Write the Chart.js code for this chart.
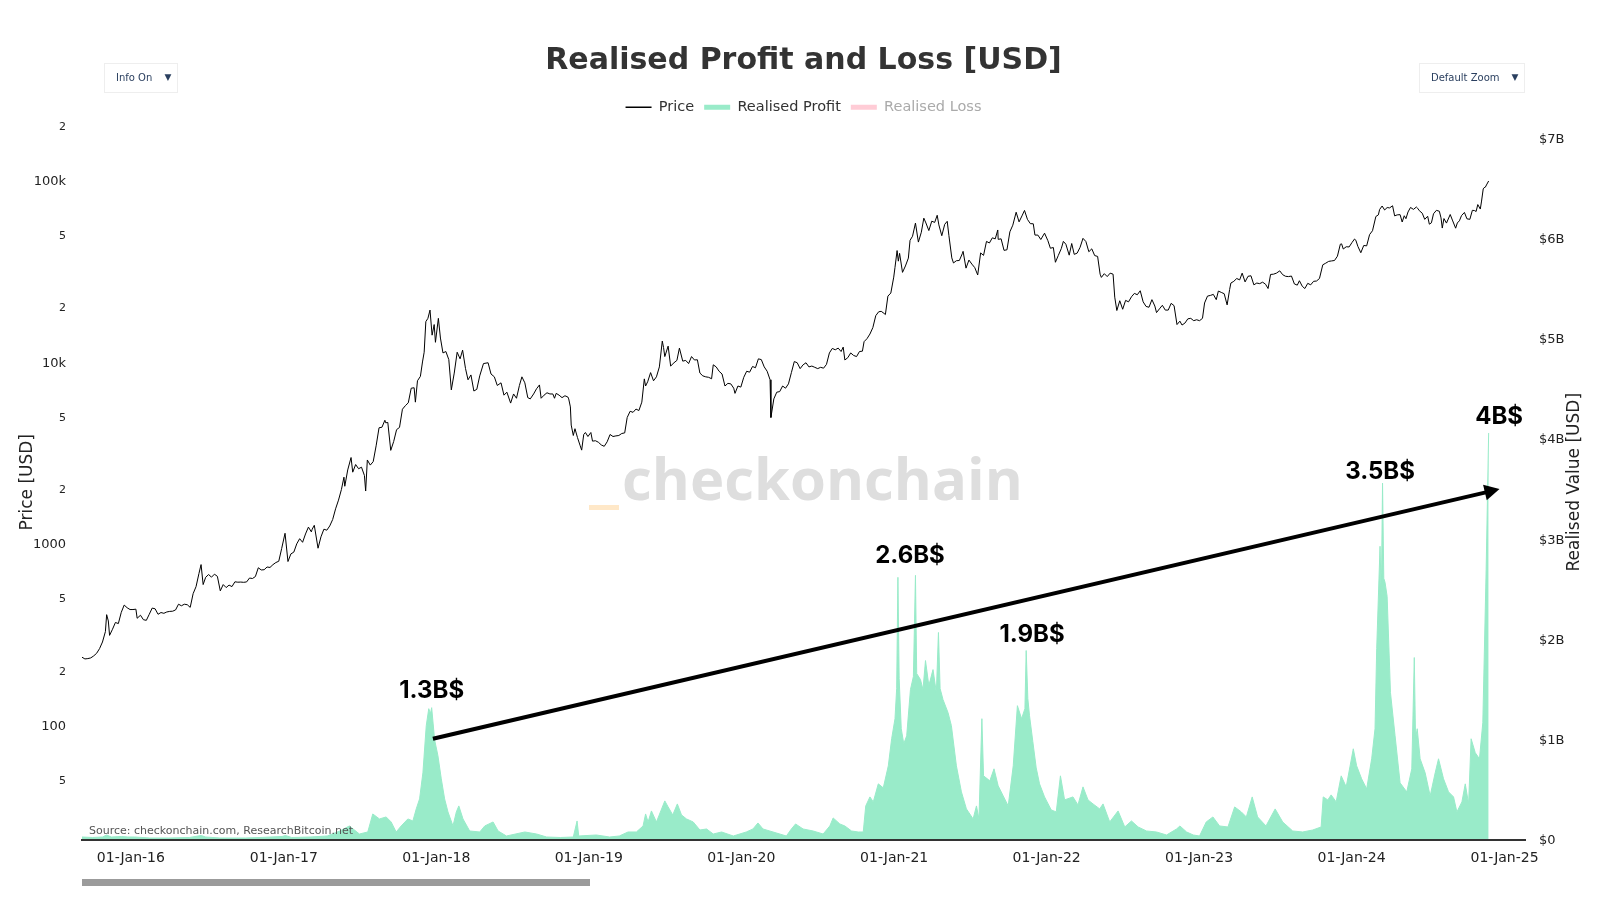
<!DOCTYPE html>
<html>
<head>
<meta charset="utf-8">
<title>Realised Profit and Loss [USD]</title>
<script src="https://cdn.jsdelivr.net/npm/chart.js@4.4.1/dist/chart.umd.min.js"></script>
<style>
  html, body { margin: 0; padding: 0; background: #fff; }
  canvas { display: block; }
</style>
</head>
<body>
<canvas id="chart" width="1600" height="900"></canvas>
<script>
// BTC price (USD), one line per year
const priceDates = [
  '2015-09-06','2015-09-13','2015-09-20','2015-09-27','2015-10-04','2015-10-11','2015-10-18','2015-10-25','2015-11-01','2015-11-04','2015-11-08','2015-11-11','2015-11-18','2015-11-25','2015-12-02','2015-12-09','2015-12-16','2015-12-23','2015-12-30',
  '2016-01-06','2016-01-13','2016-01-16','2016-01-24','2016-01-31','2016-02-07','2016-02-14','2016-02-21','2016-02-28','2016-03-06','2016-03-13','2016-03-20','2016-03-27','2016-04-03','2016-04-10','2016-04-17','2016-04-24','2016-05-01','2016-05-08','2016-05-15','2016-05-22','2016-05-29','2016-06-05','2016-06-12','2016-06-17','2016-06-22','2016-06-28','2016-07-05','2016-07-12','2016-07-19','2016-07-26','2016-08-02','2016-08-09','2016-08-16','2016-08-23','2016-08-30','2016-09-06','2016-09-13','2016-09-20','2016-09-27','2016-10-04','2016-10-11','2016-10-18','2016-10-25','2016-11-01','2016-11-08','2016-11-15','2016-11-22','2016-11-29','2016-12-06','2016-12-13','2016-12-20','2016-12-27',
  '2017-01-04','2017-01-11','2017-01-18','2017-01-25','2017-02-01','2017-02-08','2017-02-15','2017-02-22','2017-03-01','2017-03-08','2017-03-10','2017-03-15','2017-03-24','2017-03-31','2017-04-07','2017-04-14','2017-04-21','2017-04-28','2017-05-05','2017-05-12','2017-05-19','2017-05-25','2017-05-27','2017-06-03','2017-06-11','2017-06-15','2017-06-22','2017-06-29','2017-07-06','2017-07-13','2017-07-16','2017-07-20','2017-07-27','2017-08-03','2017-08-10','2017-08-17','2017-08-24','2017-08-31','2017-09-02','2017-09-07','2017-09-14','2017-09-21','2017-09-28','2017-10-05','2017-10-12','2017-10-19','2017-10-26','2017-11-02','2017-11-09','2017-11-12','2017-11-17','2017-11-24','2017-11-29','2017-12-03','2017-12-07','2017-12-12','2017-12-17','2017-12-22','2017-12-27','2017-12-30',
  '2018-01-06','2018-01-11','2018-01-17','2018-01-24','2018-01-31','2018-02-06','2018-02-13','2018-02-20','2018-02-27','2018-03-05','2018-03-12','2018-03-18','2018-03-25','2018-04-01','2018-04-08','2018-04-15','2018-04-24','2018-05-05','2018-05-12','2018-05-20','2018-05-27','2018-06-05','2018-06-12','2018-06-19','2018-06-28','2018-07-05','2018-07-12','2018-07-19','2018-07-25','2018-08-01','2018-08-08','2018-08-14','2018-08-22','2018-08-29','2018-09-05','2018-09-09','2018-09-16','2018-09-23','2018-09-30','2018-10-07','2018-10-11','2018-10-15','2018-10-22','2018-10-29','2018-11-05','2018-11-12','2018-11-14','2018-11-18','2018-11-20','2018-11-25','2018-11-29','2018-12-05','2018-12-11','2018-12-15','2018-12-20','2018-12-24','2018-12-30',
  '2019-01-06','2019-01-10','2019-01-17','2019-01-24','2019-01-31','2019-02-07','2019-02-14','2019-02-21','2019-02-28','2019-03-07','2019-03-14','2019-03-21','2019-03-28','2019-04-03','2019-04-10','2019-04-17','2019-04-24','2019-05-01','2019-05-08','2019-05-14','2019-05-17','2019-05-22','2019-05-29','2019-06-05','2019-06-12','2019-06-19','2019-06-26','2019-06-29','2019-07-02','2019-07-10','2019-07-16','2019-07-24','2019-07-31','2019-08-06','2019-08-14','2019-08-21','2019-08-28','2019-09-04','2019-09-11','2019-09-18','2019-09-24','2019-10-01','2019-10-08','2019-10-15','2019-10-22','2019-10-26','2019-11-02','2019-11-09','2019-11-16','2019-11-23','2019-11-30','2019-12-07','2019-12-14','2019-12-17','2019-12-24','2019-12-31',
  '2020-01-07','2020-01-14','2020-01-21','2020-01-28','2020-02-04','2020-02-11','2020-02-18','2020-02-25','2020-03-03','2020-03-10','2020-03-12','2020-03-19','2020-03-26','2020-04-02','2020-04-09','2020-04-16','2020-04-23','2020-04-30','2020-05-07','2020-05-14','2020-05-21','2020-05-28','2020-06-04','2020-06-11','2020-06-18','2020-06-25','2020-07-02','2020-07-09','2020-07-16','2020-07-23','2020-07-30','2020-08-06','2020-08-13','2020-08-20','2020-08-27','2020-09-01','2020-09-05','2020-09-12','2020-09-19','2020-09-26','2020-10-03','2020-10-10','2020-10-17','2020-10-21','2020-10-28','2020-11-04','2020-11-11','2020-11-18','2020-11-25','2020-12-01','2020-12-08','2020-12-11','2020-12-17','2020-12-24','2020-12-31',
  '2021-01-03','2021-01-08','2021-01-11','2021-01-14','2021-01-21','2021-01-28','2021-02-04','2021-02-08','2021-02-14','2021-02-21','2021-02-28','2021-03-07','2021-03-13','2021-03-18','2021-03-25','2021-04-01','2021-04-08','2021-04-14','2021-04-18','2021-04-25','2021-05-02','2021-05-08','2021-05-12','2021-05-19','2021-05-23','2021-05-30','2021-06-06','2021-06-13','2021-06-15','2021-06-22','2021-06-29','2021-07-06','2021-07-13','2021-07-20','2021-07-27','2021-08-03','2021-08-10','2021-08-17','2021-08-24','2021-08-31','2021-09-06','2021-09-07','2021-09-14','2021-09-21','2021-09-28','2021-10-05','2021-10-12','2021-10-20','2021-10-27','2021-11-03','2021-11-09','2021-11-16','2021-11-23','2021-11-30','2021-12-04','2021-12-11','2021-12-18','2021-12-27',
  '2022-01-04','2022-01-10','2022-01-17','2022-01-22','2022-01-29','2022-02-05','2022-02-10','2022-02-16','2022-02-24','2022-03-02','2022-03-08','2022-03-15','2022-03-22','2022-03-29','2022-04-05','2022-04-12','2022-04-19','2022-04-26','2022-05-03','2022-05-09','2022-05-12','2022-05-19','2022-05-26','2022-06-02','2022-06-09','2022-06-13','2022-06-18','2022-06-25','2022-07-02','2022-07-09','2022-07-16','2022-07-23','2022-07-30','2022-08-06','2022-08-13','2022-08-20','2022-08-27','2022-09-03','2022-09-10','2022-09-17','2022-09-21','2022-09-28','2022-10-05','2022-10-12','2022-10-19','2022-10-26','2022-11-02','2022-11-09','2022-11-16','2022-11-21','2022-11-28','2022-12-05','2022-12-12','2022-12-19','2022-12-26',
  '2023-01-02','2023-01-09','2023-01-14','2023-01-21','2023-01-28','2023-02-04','2023-02-11','2023-02-16','2023-02-23','2023-03-02','2023-03-09','2023-03-15','2023-03-18','2023-03-25','2023-04-01','2023-04-08','2023-04-14','2023-04-21','2023-04-28','2023-05-05','2023-05-12','2023-05-19','2023-05-26','2023-06-02','2023-06-09','2023-06-15','2023-06-21','2023-06-28','2023-07-05','2023-07-13','2023-07-20','2023-07-27','2023-08-03','2023-08-10','2023-08-17','2023-08-24','2023-08-29','2023-09-05','2023-09-11','2023-09-18','2023-09-25','2023-10-02','2023-10-09','2023-10-16','2023-10-24','2023-10-31','2023-11-07','2023-11-14','2023-11-21','2023-11-28','2023-12-05','2023-12-08','2023-12-12','2023-12-19','2023-12-26',
  '2024-01-02','2024-01-08','2024-01-11','2024-01-16','2024-01-23','2024-01-30','2024-02-06','2024-02-13','2024-02-20','2024-02-28','2024-03-05','2024-03-08','2024-03-14','2024-03-20','2024-03-26','2024-04-01','2024-04-08','2024-04-13','2024-04-19','2024-04-26','2024-05-01','2024-05-06','2024-05-10','2024-05-15','2024-05-21','2024-05-28','2024-06-04','2024-06-07','2024-06-11','2024-06-18','2024-06-24','2024-07-01','2024-07-05','2024-07-10','2024-07-15','2024-07-22','2024-07-29','2024-08-02','2024-08-05','2024-08-09','2024-08-15','2024-08-24','2024-08-30','2024-09-06','2024-09-10','2024-09-15','2024-09-20','2024-09-27','2024-10-03','2024-10-10','2024-10-16','2024-10-21','2024-10-25','2024-10-29','2024-11-04','2024-11-07','2024-11-11','2024-11-13','2024-11-16','2024-11-20','2024-11-24'
];
const priceValues = [
  235, 230, 231, 233, 239, 247, 262, 285, 325, 403, 372, 310, 335, 365, 360, 415, 455, 440, 430,
  430, 432, 385, 400, 378, 375, 405, 438, 434, 405, 414, 410, 417, 420, 421, 428, 460, 451, 460, 457, 442, 526, 575, 680, 760, 590, 647, 670, 648, 673, 655, 545, 590, 568, 586, 575, 611, 608, 609, 607, 610, 641, 637, 653, 730, 710, 712, 737, 733, 759, 780, 793, 933,
  1130, 790, 870, 890, 988, 1055, 1008, 1120, 1222, 1150, 1190, 1250, 935, 1080, 1190, 1175, 1240, 1345, 1540, 1720, 1970, 2300, 2050, 2520, 2950, 2450, 2700, 2560, 2610, 2350, 1930, 2860, 2680, 2800, 3420, 4300, 4330, 4730, 4580, 4600, 3230, 3610, 4200, 4320, 5440, 5690, 5900, 7100, 7140, 5950, 7800, 8250, 9900, 11200, 16500, 17200, 19100, 13900, 15900, 12700,
  17200, 13400, 11100, 11300, 10200, 6950, 8600, 11200, 10300, 11500, 9100, 7900, 8400, 6850, 7000, 8300, 9700, 9800, 8500, 8200, 7350, 7600, 6500, 6750, 5880, 6600, 6250, 7350, 8200, 7600, 6300, 6200, 6600, 7050, 7400, 6250, 6500, 6700, 6600, 6600, 6250, 6650, 6500, 6300, 6450, 6350, 6200, 5600, 4450, 3900, 4250, 3800, 3450, 3240, 3950, 4050, 3850,
  4050, 3630, 3650, 3580, 3460, 3400, 3600, 3950, 3850, 3880, 3900, 4000, 4030, 4900, 5300, 5230, 5450, 5350, 5950, 7990, 7300, 7700, 8650, 7800, 8200, 9300, 12900, 11900, 10600, 12100, 9400, 9800, 10100, 11800, 10000, 10100, 9700, 10600, 10150, 10180, 8600, 8300, 8200, 8150, 8000, 9550, 9300, 8800, 8500, 7300, 7550, 7500, 7100, 6650, 7300, 7200,
  8150, 8800, 8700, 9350, 9200, 10300, 10200, 9300, 8800, 7900, 4900, 6200, 6750, 6800, 7300, 7100, 7500, 8650, 9950, 9800, 9100, 9550, 9800, 9300, 9400, 9250, 9100, 9250, 9150, 9600, 11100, 11750, 11550, 11800, 11300, 11950, 10150, 10450, 11100, 10750, 10600, 11300, 11350, 12800, 13300, 14100, 15300, 17800, 18700, 18800, 18300, 18050, 22800, 23700, 29000,
  32800, 40600, 35500, 39200, 30800, 33400, 36900, 46200, 48700, 57500, 45200, 51200, 61200, 57600, 52300, 58900, 58000, 63500, 56200, 49000, 56600, 58800, 49200, 37000, 34700, 35700, 35800, 39000, 40200, 32500, 36000, 34200, 32700, 29800, 39400, 38200, 45600, 44700, 47700, 47100, 52700, 46800, 47100, 40700, 41000, 51500, 56000, 66000, 58400, 63000, 67500, 60300, 57100, 57000, 49400, 49400, 46700, 50600,
  46000, 41800, 42200, 35000, 38200, 41600, 45600, 44000, 38300, 44400, 38700, 39300, 42300, 47400, 45500, 40000, 41500, 38100, 37700, 30100, 28900, 30300, 29200, 30500, 30100, 22500, 19000, 21500, 19300, 21600, 21200, 22600, 23600, 23200, 24400, 21200, 20000, 19800, 21800, 20100, 18500, 19400, 20300, 19100, 19100, 20800, 20200, 15900, 16600, 15800, 16200, 17100, 17200, 16700, 16900,
  16700, 17200, 20900, 22800, 23000, 23300, 21800, 24300, 23900, 23500, 20400, 24800, 26900, 27500, 28500, 28000, 30500, 27300, 29300, 29500, 26300, 26900, 26700, 27200, 26500, 25100, 30000, 30100, 30500, 31400, 29900, 29300, 29200, 29400, 26600, 26200, 27700, 25800, 25100, 26800, 26300, 27500, 27600, 28500, 33900, 34600, 35400, 35600, 35800, 37800, 44000, 44200, 41400, 42600, 42500,
  45000, 47000, 46300, 42800, 39500, 43300, 43100, 49700, 52200, 62500, 63800, 68300, 71400, 67900, 70000, 69700, 71600, 63000, 63800, 64000, 58300, 63100, 60800, 66200, 70100, 68400, 70500, 69400, 67300, 65200, 60300, 62700, 56700, 57700, 64700, 67600, 66800, 61400, 54000, 60900, 57500, 64100, 59100, 53900, 57600, 59200, 63200, 65800, 60700, 60300, 67600, 67400, 66600, 72700, 68700, 76000, 88700, 90000, 90600, 94300, 98000
];

// Realised profit (billions USD)
const profitDates = [
  '2015-09-06','2015-10-01','2015-10-25','2015-11-04','2015-11-15','2015-12-10','2015-12-25',
  '2016-01-10','2016-02-15','2016-04-01','2016-05-20','2016-06-17','2016-06-28','2016-08-01','2016-10-01','2016-11-05','2016-12-28',
  '2017-01-05','2017-01-20','2017-03-05','2017-04-15','2017-05-15','2017-06-07','2017-07-01','2017-07-21','2017-08-02','2017-08-18','2017-09-03','2017-09-15','2017-09-27','2017-10-09','2017-10-25','2017-11-06','2017-11-14','2017-11-22','2017-11-30','2017-12-08','2017-12-14','2017-12-18','2017-12-21','2017-12-28',
  '2018-01-05','2018-01-13','2018-01-21','2018-01-29','2018-02-10','2018-02-18','2018-02-24','2018-03-06','2018-03-22','2018-04-15','2018-04-27','2018-05-17','2018-05-29','2018-06-18','2018-08-01','2018-08-29','2018-09-22','2018-10-25','2018-11-25','2018-12-04','2018-12-08',
  '2019-01-19','2019-02-20','2019-03-15','2019-04-05','2019-04-25','2019-05-11','2019-05-17','2019-05-23','2019-05-31','2019-06-12','2019-07-02','2019-07-10','2019-07-21','2019-08-01','2019-08-11','2019-08-23','2019-09-08','2019-09-24','2019-10-10','2019-10-26','2019-11-15','2019-12-13',
  '2020-01-13','2020-01-29','2020-02-10','2020-02-22','2020-03-17','2020-04-18','2020-04-30','2020-05-10','2020-05-28','2020-06-21','2020-07-15','2020-07-31','2020-08-08','2020-08-24','2020-09-05','2020-09-21','2020-10-07','2020-10-19','2020-10-25','2020-11-04','2020-11-12','2020-11-24','2020-12-06','2020-12-18','2020-12-26',
  '2021-01-03','2021-01-07','2021-01-10','2021-01-13','2021-01-18','2021-01-24','2021-01-31','2021-02-09','2021-02-16','2021-02-21','2021-02-24','2021-03-05','2021-03-11','2021-03-17','2021-03-25','2021-04-04','2021-04-12','2021-04-17','2021-04-21','2021-04-28','2021-05-10','2021-05-18','2021-05-30','2021-06-11','2021-06-23','2021-07-09','2021-07-17','2021-07-23','2021-07-30','2021-08-03','2021-08-18','2021-08-28','2021-09-07','2021-09-19','2021-10-01','2021-10-13','2021-10-23','2021-11-02','2021-11-10','2021-11-13','2021-11-17','2021-11-21','2021-11-29','2021-12-07','2021-12-15','2021-12-27',
  '2022-01-12','2022-01-24','2022-02-03','2022-02-13','2022-03-05','2022-03-17','2022-03-29','2022-04-10','2022-04-22','2022-05-08','2022-05-16','2022-06-01','2022-06-21','2022-07-07','2022-07-23','2022-08-08','2022-08-28','2022-09-21','2022-10-15','2022-11-08','2022-11-16','2022-12-02','2022-12-18',
  '2023-01-02','2023-01-18','2023-02-03','2023-02-19','2023-03-11','2023-03-27','2023-04-12','2023-04-24','2023-05-08','2023-05-21','2023-06-10','2023-07-02','2023-07-20','2023-08-13','2023-09-06','2023-09-30','2023-10-20','2023-10-25','2023-11-05','2023-11-13','2023-11-25','2023-12-07','2023-12-19',
  '2024-01-05','2024-01-13','2024-01-25','2024-02-06','2024-02-18','2024-02-26','2024-03-01','2024-03-09','2024-03-12','2024-03-15','2024-03-18','2024-03-21','2024-03-26','2024-04-03','2024-04-14','2024-04-26','2024-05-12','2024-05-24','2024-05-30','2024-06-02','2024-06-06','2024-06-13','2024-06-25','2024-07-07','2024-07-19','2024-07-27','2024-08-08','2024-08-20','2024-09-01','2024-09-09','2024-09-21','2024-09-29','2024-10-07','2024-10-13','2024-10-23','2024-11-02','2024-11-10','2024-11-18','2024-11-24'
];
const profitValues = [
  0.02, 0.015, 0.02, 0.04, 0.02, 0.025, 0.02,
  0.02, 0.01, 0.01, 0.015, 0.035, 0.02, 0.01, 0.01, 0.015, 0.025,
  0.035, 0.015, 0.02, 0.03, 0.08, 0.13, 0.05, 0.07, 0.25, 0.2, 0.22, 0.17, 0.07, 0.13, 0.2, 0.18, 0.3, 0.4, 0.66, 1.13, 1.3, 1.25, 1.31, 0.99,
  0.83, 0.6, 0.4, 0.27, 0.13, 0.27, 0.33, 0.2, 0.08, 0.07, 0.13, 0.17, 0.08, 0.03, 0.07, 0.05, 0.02, 0.015, 0.02, 0.18, 0.03,
  0.04, 0.02, 0.03, 0.07, 0.07, 0.13, 0.25, 0.17, 0.28, 0.17, 0.38, 0.32, 0.24, 0.35, 0.24, 0.2, 0.17, 0.09, 0.1, 0.05, 0.07, 0.03,
  0.07, 0.1, 0.16, 0.1, 0.07, 0.03, 0.1, 0.15, 0.1, 0.08, 0.05, 0.13, 0.21, 0.15, 0.13, 0.08, 0.07, 0.07, 0.33, 0.42, 0.37, 0.55, 0.51, 0.73, 1.0,
  1.2, 1.5, 2.61, 1.6, 1.1, 0.95, 1.03, 1.49, 1.62, 2.63, 1.65, 1.59, 1.49, 1.78, 1.53, 1.69, 1.46, 2.06, 1.5, 1.39, 1.26, 1.13, 0.73, 0.47, 0.3, 0.2, 0.33, 0.2, 1.2, 0.63, 0.58, 0.7, 0.53, 0.43, 0.33, 0.73, 1.33, 1.2, 1.3, 1.88, 1.4, 1.23, 0.97, 0.71, 0.55, 0.42,
  0.29, 0.27, 0.63, 0.39, 0.42, 0.34, 0.52, 0.39, 0.35, 0.3, 0.35, 0.17, 0.28, 0.12, 0.18, 0.12, 0.08, 0.07, 0.04, 0.1, 0.13, 0.07, 0.04,
  0.03, 0.17, 0.22, 0.13, 0.12, 0.32, 0.27, 0.22, 0.42, 0.22, 0.13, 0.3, 0.17, 0.08, 0.07, 0.09, 0.12, 0.42, 0.39, 0.44, 0.37, 0.63, 0.52,
  0.9, 0.73, 0.6, 0.5, 0.8, 1.1, 1.9, 2.92, 2.4, 3.55, 2.6, 2.56, 2.42, 1.46, 1.03, 0.56, 0.47, 0.7, 1.81, 1.0, 1.1, 0.8, 0.66, 0.43, 0.66, 0.8, 0.6, 0.47, 0.42, 0.27, 0.37, 0.55, 0.35, 1.0, 0.86, 0.8, 1.16, 2.69, 4.05
];

const yearTicks = [2016, 2017, 2018, 2019, 2020, 2021, 2022, 2023, 2024, 2025];
const priceTickValues = [50, 100, 200, 500, 1000, 2000, 5000, 10000, 20000, 50000, 100000, 200000];
const priceTickLabels = ['5', '100', '2', '5', '1000', '2', '5', '10k', '2', '5', '100k', '2'];
const valueTicks = [0, 1, 2, 3, 4, 5, 6, 7];

// peak call-outs and the trend arrow (value axis, billions)
const noteLabels = ['1.3B$', '2.6B$', '1.9B$', '3.5B$', '4B$'];
const noteDates = ['2017-12-21', '2021-02-08', '2021-11-27', '2024-03-09', '2024-12-19'];
const noteValues = [1.48, 2.83, 2.04, 3.66, 4.21];
const arrowDates = ['2017-12-24', '2024-12-20'];
const arrowValues = [1.0, 3.49];

const GREEN = '#99EBC9';
const PINK = '#FFCCD6';
const FONT = 'DejaVu Sans';

const toPoints = (dates, values) => dates.map((d, i) => ({ x: Date.parse(d), y: values[i] }));

const backdrop = {
  id: 'backdrop',
  beforeDatasetsDraw(chart) {
    const { ctx, chartArea: a } = chart;
    ctx.save();
    ctx.fillStyle = '#ffe8c8';
    ctx.fillRect(a.left + 507, 505, 30, 5);
    ctx.font = `bold 58px "Open Sans"`;
    ctx.fillStyle = '#dedede';
    ctx.textAlign = 'left';
    ctx.textBaseline = 'alphabetic';
    ctx.fillText('checkonchain', a.left + 540, 500);
    ctx.restore();
  }
};

const overlay = {
  id: 'overlay',
  afterDatasetsDraw(chart) {
    const { ctx, chartArea: a } = chart;
    const xs = chart.scales.x, ys = chart.scales.y2;
    ctx.save();

    ctx.font = `11px "${FONT}"`;
    ctx.fillStyle = '#555';
    ctx.textAlign = 'left';
    ctx.textBaseline = 'middle';
    ctx.fillText('Source: checkonchain.com, ResearchBitcoin.net', a.left + 7, a.bottom - 9);

    // arrow
    const x0 = xs.getPixelForValue(Date.parse(arrowDates[0]));
    const y0 = ys.getPixelForValue(arrowValues[0]);
    const x1 = xs.getPixelForValue(Date.parse(arrowDates[1]));
    const y1 = ys.getPixelForValue(arrowValues[1]);
    const ang = Math.atan2(y1 - y0, x1 - x0);
    const len = 15, half = 8;
    const bx = x1 - len * Math.cos(ang), by = y1 - len * Math.sin(ang);
    ctx.strokeStyle = '#000';
    ctx.fillStyle = '#000';
    ctx.lineWidth = 4;
    ctx.beginPath();
    ctx.moveTo(x0, y0);
    ctx.lineTo(bx + 2 * Math.cos(ang), by + 2 * Math.sin(ang));
    ctx.stroke();
    ctx.beginPath();
    ctx.moveTo(x1, y1);
    ctx.lineTo(bx + half * Math.sin(ang), by - half * Math.cos(ang));
    ctx.lineTo(bx - half * Math.sin(ang), by + half * Math.cos(ang));
    ctx.closePath();
    ctx.fill();

    ctx.font = '700 24px Inter';
    ctx.textAlign = 'center';
    ctx.textBaseline = 'middle';
    noteLabels.forEach((t, i) => {
      ctx.fillText(t, xs.getPixelForValue(Date.parse(noteDates[i])), ys.getPixelForValue(noteValues[i]));
    });
    ctx.restore();
  },
  afterDraw(chart) {
    const { ctx, chartArea: a } = chart;
    ctx.save();

    // right axis title, reads bottom to top
    ctx.translate(a.right + 50, (a.top + a.bottom) / 2);
    ctx.rotate(-Math.PI / 2);
    ctx.font = `17px "${FONT}"`;
    ctx.fillStyle = '#222';
    ctx.textAlign = 'center';
    ctx.textBaseline = 'middle';
    ctx.fillText('Realised Value [USD]', 0, 0);
    ctx.setTransform(1, 0, 0, 1, 0, 0);

    const button = (x, y, w, h, label) => {
      ctx.fillStyle = '#fff';
      ctx.fillRect(x, y, w, h);
      ctx.strokeStyle = '#eeeeee';
      ctx.lineWidth = 1;
      ctx.strokeRect(x + 0.5, y + 0.5, w - 1, h - 1);
      ctx.fillStyle = '#2a3f5f';
      ctx.font = `10px "${FONT}"`;
      ctx.textAlign = 'left';
      ctx.textBaseline = 'middle';
      ctx.fillText(label, x + 12, y + h / 2);
      ctx.font = `9px "${FONT}"`;
      ctx.textAlign = 'center';
      ctx.fillText('▼', x + w - 10, y + h / 2);
    };
    button(a.left + 22, 63, 74, 30, 'Info On');
    button(a.right - 106, 63, 106, 30, 'Default Zoom');

    // range slider strip under the axis
    ctx.fillStyle = '#9b9b9b';
    ctx.fillRect(a.left, 879, 508, 7);
    ctx.restore();
  }
};

new Chart(document.getElementById('chart'), {
  type: 'line',
  data: {
    datasets: [
      {
        label: 'Price',
        data: toPoints(priceDates, priceValues),
        borderColor: '#000',
        borderWidth: 1,
        pointRadius: 0,
        fill: false,
        yAxisID: 'y'
      },
      {
        label: 'Realised Profit',
        data: toPoints(profitDates, profitValues),
        borderColor: GREEN,
        backgroundColor: GREEN,
        borderWidth: 1,
        pointRadius: 0,
        fill: 'origin',
        yAxisID: 'y2'
      },
      {
        label: 'Realised Loss',
        data: [],
        borderColor: PINK,
        backgroundColor: PINK,
        pointRadius: 0,
        yAxisID: 'y2'
      }
    ]
  },
  options: {
    responsive: false,
    animation: false,
    events: [],
    layout: { padding: { top: 20, left: 0, right: 0, bottom: 0 } },
    plugins: {
      tooltip: { enabled: false },
      title: {
        display: true,
        text: 'Realised Profit and Loss [USD]',
        fullSize: false,
        color: '#333',
        font: { family: FONT, size: 30, weight: 'bold' },
        padding: { top: 23, bottom: 11 }
      },
      legend: {
        position: 'top',
        fullSize: false,
        labels: {
          usePointStyle: true,
          pointStyleWidth: 26,
          boxHeight: 5,
          padding: 10,
          font: { family: FONT, size: 14.5 },
          generateLabels: (chart) => chart.data.datasets.map((ds, i) => ({
            text: ds.label,
            datasetIndex: i,
            hidden: false,
            fillStyle: ds.borderColor,
            strokeStyle: ds.borderColor,
            lineWidth: i === 0 ? 1.5 : 0,
            pointStyle: i === 0 ? 'line' : 'rect',
            fontColor: i === 2 ? '#aaaaaa' : '#333333'
          }))
        }
      }
    },
    scales: {
      x: {
        type: 'linear',
        position: 'bottom',
        min: Date.parse('2015-09-06'),
        max: Date.parse('2025-02-19'),
        grid: { display: false },
        border: { display: true, color: '#333', width: 2 },
        afterBuildTicks: (s) => { s.ticks = yearTicks.map(y => ({ value: Date.UTC(y, 0, 1) })); },
        afterFit: (s) => { s.height = 60; },
        ticks: {
          autoSkip: false,
          maxRotation: 0,
          padding: 2,
          color: '#222',
          font: { family: FONT, size: 14 },
          callback: (v) => '01-Jan-' + String(new Date(v).getUTCFullYear()).slice(2)
        }
      },
      y: {
        type: 'logarithmic',
        position: 'left',
        min: 23.2,
        max: 200500,
        grid: { display: false },
        border: { display: false },
        afterBuildTicks: (s) => { s.ticks = priceTickValues.map(v => ({ value: v })); },
        afterFit: (s) => { s.width = 82; },
        title: {
          display: true,
          text: 'Price [USD]',
          color: '#222',
          font: { family: FONT, size: 17 },
          padding: { top: 17, bottom: 0 }
        },
        ticks: {
          autoSkip: false,
          padding: 8,
          labelOffset: 2,
          color: '#222',
          callback: (v, i) => priceTickLabels[i],
          font: (c) => ({ family: FONT, size: (priceTickLabels[c.index] || '').length > 1 ? 13 : 11 })
        }
      },
      y2: {
        type: 'linear',
        position: 'right',
        min: -0.01,
        max: 7.127,
        grid: { display: false },
        border: { display: false },
        afterBuildTicks: (s) => { s.ticks = valueTicks.map(v => ({ value: v })); },
        afterFit: (s) => { s.width = 75; },
        ticks: {
          autoSkip: false,
          padding: 6,
          labelOffset: 2,
          color: '#222',
          font: { family: FONT, size: 13 },
          callback: (v) => v === 0 ? '$0' : '$' + v + 'B'
        }
      }
    }
  },
  plugins: [backdrop, overlay]
});
</script>
</body>
</html>
